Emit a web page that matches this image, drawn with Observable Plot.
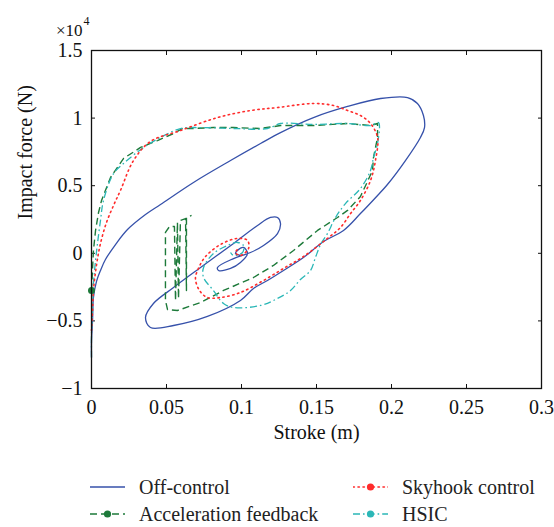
<!DOCTYPE html>
<html><head><meta charset="utf-8">
<script src="https://cdn.jsdelivr.net/npm/d3@7"></script>
<script src="https://cdn.jsdelivr.net/npm/@observablehq/plot@0.6"></script>
<style>
body{margin:0;background:#fff;}
#wrap{position:relative;width:554px;height:527px;font-family:"Liberation Serif","DejaVu Serif","Noto Serif",serif;}
.leg{position:absolute;display:flex;align-items:center;font-size:20px;color:#222;line-height:20px;white-space:nowrap;}
.leg svg{margin-right:14px;}
</style></head><body><div id="wrap"><div id="chart"></div></div>
<script>
const xTicks = [0, 0.05, 0.1, 0.15, 0.2, 0.25, 0.3];
const xTickLabels = ["0", "0.05", "0.1", "0.15", "0.2", "0.25", "0.3"];
const yTicks = [-10000, -5000, 0, 5000, 10000, 15000];
const yTickLabels = ["−1", "−0.5", "0", "0.5", "1", "1.5"];
const seriesNames = ["Off-control", "Skyhook control", "Acceleration feedback", "HSIC"];

// Off-control (stroke m, force N)
const offX = [0,0,0.0007,0.0013,0.0033,0.006,0.0093,0.016,0.024,0.036,0.046,0.068,0.0927,0.1127,0.126,0.148,0.1707,0.1927,0.2107,0.2173,0.2213,0.222,0.2193,0.2093,0.1973,0.1907,0.1793,0.168,0.1547,0.1413,0.128,0.1173,0.108,0.0993,0.0773,0.0547,0.0393,0.036,0.0413,0.0547,0.0727,0.0947,0.1107,0.1193,0.124,0.126,0.124,0.1147,0.106,0.0947,0.084,0.0847,0.0927,0.0993,0.104,0.1013,0.0973,0.096,0.0993];
const offY = [-7710,-6450,-4970,-3270,-2090,-1270,-460,650,1760,2870,3610,5240,6860,8120,8930,10040,10860,11450,11520,11080,10190,9300,8570,6860,5090,4280,2940,1690,870,-310,-1270,-2010,-2600,-3490,-4670,-5340,-5490,-4750,-3710,-2530,-1050,730,2060,2650,2650,2200,1460,580,60,-390,-1050,-1270,-1120,-680,-20,430,210,-20,-160];

// Skyhook control
const skyX = [0,0.0007,0.0013,0.0033,0.006,0.01,0.0147,0.0193,0.028,0.0393,0.0593,0.084,0.106,0.124,0.148,0.1613,0.1707,0.1793,0.186,0.1907,0.1893,0.186,0.1793,0.1727,0.166,0.1573,0.1413,0.128,0.1147,0.0993,0.086,0.0773,0.072,0.0693,0.0713,0.076,0.086,0.0973,0.104,0.1047,0.0993,0.096,0.0987];
const skyY = [-5710,-4230,-2750,-900,730,2280,3540,4650,6860,8270,9080,10040,10560,10780,11080,10930,10560,10190,9600,8570,6860,5380,3910,2940,1910,1100,-240,-1120,-2010,-2900,-3270,-3270,-2750,-1860,-1120,-240,650,1100,950,360,-160,60,430];

// Acceleration feedback
const accX = [0,0.0007,0.0013,0.0027,0.0047,0.0067,0.0127,0.0213,0.0327,0.044,0.0547,0.0607,0.068,0.0813,0.0947,0.1127,0.126,0.148,0.1707,0.186,0.1907,0.1907,0.188,0.1873,0.184,0.1793,0.1707,0.164,0.1507,0.1347,0.1213,0.108,0.088,0.0727,0.0573,0.0507,0.0493,0.0493,0.052,0.0553,0.056,0.0573,0.058,0.0593,0.0627,0.0633,0.0633,0.0667];
const accY = [-2750,-1120,210,1690,3020,3910,5610,7010,7830,8340,8860,9230,9230,9300,9300,9230,9450,9450,9600,9450,9600,8570,7090,6120,5310,4200,3170,2650,1690,210,-900,-1790,-2750,-3640,-4230,-4160,-3490,1540,1980,1980,-3490,2280,-3340,2430,2570,-2750,2650,2800];

// HSIC
const hsX = [0,0,0.0007,0.0013,0.0027,0.004,0.006,0.008,0.0147,0.0213,0.0347,0.046,0.0593,0.0727,0.0947,0.1173,0.126,0.148,0.1707,0.186,0.1913,0.1907,0.188,0.186,0.1793,0.1693,0.1627,0.1573,0.1527,0.1493,0.146,0.1393,0.1327,0.124,0.1127,0.0947,0.088,0.0813,0.0747,0.0747,0.0813,0.0907,0.0973,0.1013,0.1007,0.0947,0.0927];
const hsY = [-7710,-6080,-4230,-2230,-530,730,2430,3910,5900,6640,7830,8570,9230,9300,9230,9230,9600,9530,9600,9450,9670,8120,7090,6120,4790,3680,2650,1460,650,-310,-1270,-1940,-2750,-3340,-3860,-4010,-3710,-2750,-1790,-1050,-20,580,800,580,60,-160,60];

const styles = {
  "Off-control": {stroke: "#3651aa", dash: null, width: 1.3},
  "Skyhook control": {stroke: "#ff2b2b", dash: "1.4 3.6", width: 1.6},
  "Acceleration feedback": {stroke: "#1d7a3a", dash: "7 4", width: 1.4},
  "HSIC": {stroke: "#2bb7b7", dash: "7 3 1.6 3", width: 1.3}
};

const rows = (X, Y) => X.map((x, i) => ({x, y: Y[i]}));
const off = rows(offX, offY), sky = rows(skyX, skyY), acc = rows(accX, accY), hs = rows(hsX, hsY);

const lineMark = (data, name, curve) => {
  const s = styles[name];
  return Plot.line(data, {x: "x", y: "y", stroke: s.stroke, strokeWidth: s.width,
    strokeDasharray: s.dash, curve, strokeLinecap: name === "Skyhook control" ? "round" : "butt"});
};

const fmtX = d => xTickLabels[xTicks.indexOf(d)];
const fmtY = d => yTickLabels[yTicks.indexOf(d)];
const FONT = "'Liberation Serif', 'DejaVu Serif', 'Noto Serif', serif";

const chart = Plot.plot({
  width: 554, height: 455,
  marginLeft: 91, marginRight: 13, marginTop: 50, marginBottom: 67,
  style: {fontFamily: FONT, fontSize: "20px", color: "#111", background: "#fff"},
  x: {domain: [0, 0.3]},
  y: {domain: [-10000, 15000]},
  marks: [
    Plot.axisX({anchor: "bottom", ticks: xTicks, tickFormat: fmtX, tickSize: -4, tickPadding: 15, label: null, fontSize: 20, fontFamily: FONT}),
    Plot.axisX({anchor: "top", ticks: xTicks, tickFormat: () => "", tickSize: -4, fill: "none", label: null}),
    Plot.axisY({anchor: "left", ticks: yTicks, tickFormat: fmtY, tickSize: -4, tickPadding: 13, label: null, fontSize: 20, fontFamily: FONT}),
    Plot.axisY({anchor: "right", ticks: yTicks, tickFormat: () => "", tickSize: -4, fill: "none", label: null}),
    lineMark(off, "Off-control", "catmull-rom"),
    lineMark(acc, "Acceleration feedback", "linear"),
    lineMark(hs, "HSIC", "catmull-rom"),
    lineMark(sky, "Skyhook control", "catmull-rom"),
    Plot.dot([acc[0]], {x: "x", y: "y", r: 3.5, fill: styles["Acceleration feedback"].stroke}),
    Plot.frame({stroke: "#111", strokeWidth: 1.3}),
    Plot.text(["Stroke (m)"], {frameAnchor: "bottom", dy: 50, fontSize: 20, fontFamily: FONT, fill: "#111"}),
    Plot.text(["Impact force (N)"], {frameAnchor: "left", dx: -66, rotate: -90, fontSize: 20, fontFamily: FONT, fill: "#111"}),
    Plot.text(["×10"], {frameAnchor: "top-left", dx: -9, dy: -27, textAnchor: "end", fontSize: 17, fontFamily: FONT, fill: "#111"}),
    Plot.text(["4"], {frameAnchor: "top-left", dx: -8, dy: -34, textAnchor: "start", fontSize: 12, fontFamily: FONT, fill: "#111"})
  ]
});
const wrap = document.getElementById("wrap");
document.getElementById("chart").appendChild(chart);

// legend below the SVG
const legPos = [
  {name: "Off-control", left: 90, top: 477},
  {name: "Skyhook control", left: 353, top: 477},
  {name: "Acceleration feedback", left: 90, top: 504},
  {name: "HSIC", left: 353, top: 504}
];
legPos.forEach(p => {
  const s = styles[p.name];
  const hasDot = p.name !== "Off-control";
  const div = document.createElement("div");
  div.className = "leg";
  div.style.left = p.left + "px";
  div.style.top = p.top + "px";
  div.innerHTML = `<svg width="35" height="14"><line x1="0" y1="7" x2="35" y2="7" stroke="${s.stroke}" stroke-width="${s.width}" ${s.dash ? `stroke-dasharray="${s.dash}"` : ""} ${p.name === "Skyhook control" ? 'stroke-linecap="round"' : ""}/>${hasDot ? `<circle cx="17.5" cy="7" r="3.6" fill="${s.stroke}"/>` : ""}</svg><span>${p.name}</span>`;
  wrap.appendChild(div);
});
</script></body></html>
